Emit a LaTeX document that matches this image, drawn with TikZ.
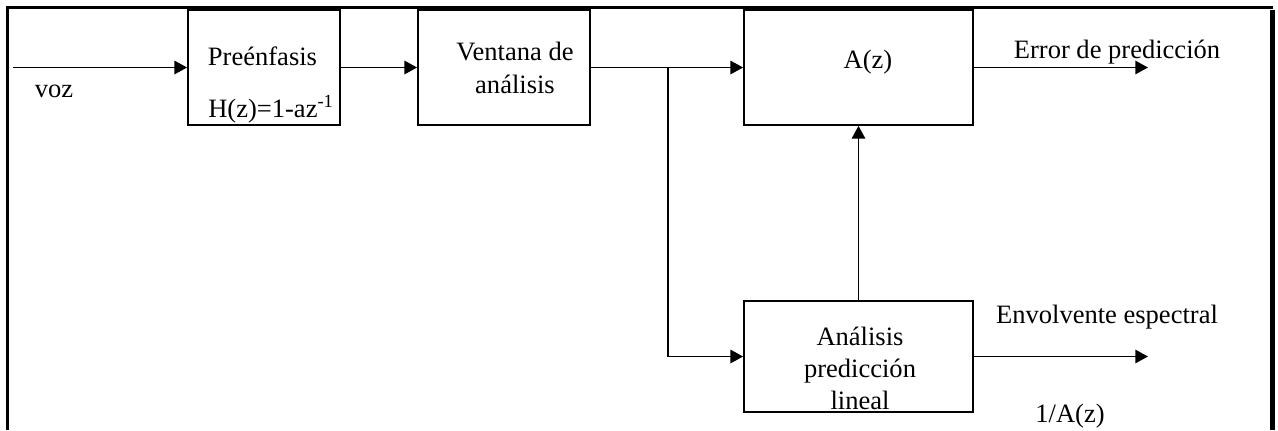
\documentclass[tikz,border=0pt]{standalone}
\usepackage{fontspec}
\setmainfont{Liberation Serif}
\usetikzlibrary{arrows.meta}

\tikzset{
    bloque/.style={draw, line width=1.3pt, inner sep=0pt, minimum height=86.25pt},
    flecha/.style={line width=1.3pt, -{Triangle[length=9.5pt,width=10pt]}},
    linea/.style={line width=1.3pt},
    etiqueta/.style={anchor=base, inner sep=0pt},
}

\begin{document}
\begin{tikzpicture}[x=0.75pt, y=-0.75pt, font=\fontsize{19.9}{24.2}\selectfont]
    \useasboundingbox (0,0) rectangle (1278,430);

    % marco
    \draw[line width=2.4pt] (7.5,430) -- (7.5,7.5) -- (1272.5,7.5);
    \draw[line width=3.6pt] (1272.5,10) -- (1272.5,430);

    % bloques
    \node[bloque, minimum width=114pt] (pre) at (264,67.5) {};
    \node[bloque, minimum width=129pt] (ven) at (504,67.5) {};
    \node[bloque, minimum width=171.75pt] (az) at (858.5,67.5) {};
    \node[bloque, minimum width=171.75pt, minimum height=83.25pt] (lpc) at (858.5,356.5) {};

    % textos de los bloques
    \node[etiqueta] (tpre) at (262.5,65) {Preénfasis};
    \node[etiqueta] (thz) at (271,117.5) {H(z)=1-az\textsuperscript{-1}};
    \node[align=center, inner sep=0pt] (tven) at (515,68) {Ventana de\\análisis};
    \node[etiqueta] (taz) at (868,68) {A(z)};
    \node[align=center, inner sep=0pt] (tlpc) at (860,368.5) {Análisis\\predicción\\lineal};

    % puntos libres
    \coordinate (in) at (13,67.5);
    \coordinate (rama) at (668,67.5);
    \coordinate (codo) at (668,356.5);
    \coordinate (err) at (1148,67.5);
    \coordinate (env) at (1148,356.5);

    % conexiones
    \draw[flecha] (in) -- (pre.west);
    \draw[flecha] (pre.east) -- (ven.west);
    \draw[flecha] (ven.east) -- (az.west);
    \draw[linea] (rama) -- (codo);
    \draw[flecha] (codo) -- (lpc.west);
    \draw[flecha] (lpc.north) -- (az.south);
    \draw[flecha] (az.east) -- (err);
    \draw[flecha] (lpc.east) -- (env);

    % etiquetas
    \node[etiqueta] (voz) at (54,97) {voz};
    \node[etiqueta] (terr) at (1117,58) {Error de predicción};
    \node[etiqueta] (tenv) at (1107,323) {Envolvente espectral};
    \node[etiqueta] (tinv) at (1070,422.5) {1/A(z)};
\end{tikzpicture}
\end{document}
